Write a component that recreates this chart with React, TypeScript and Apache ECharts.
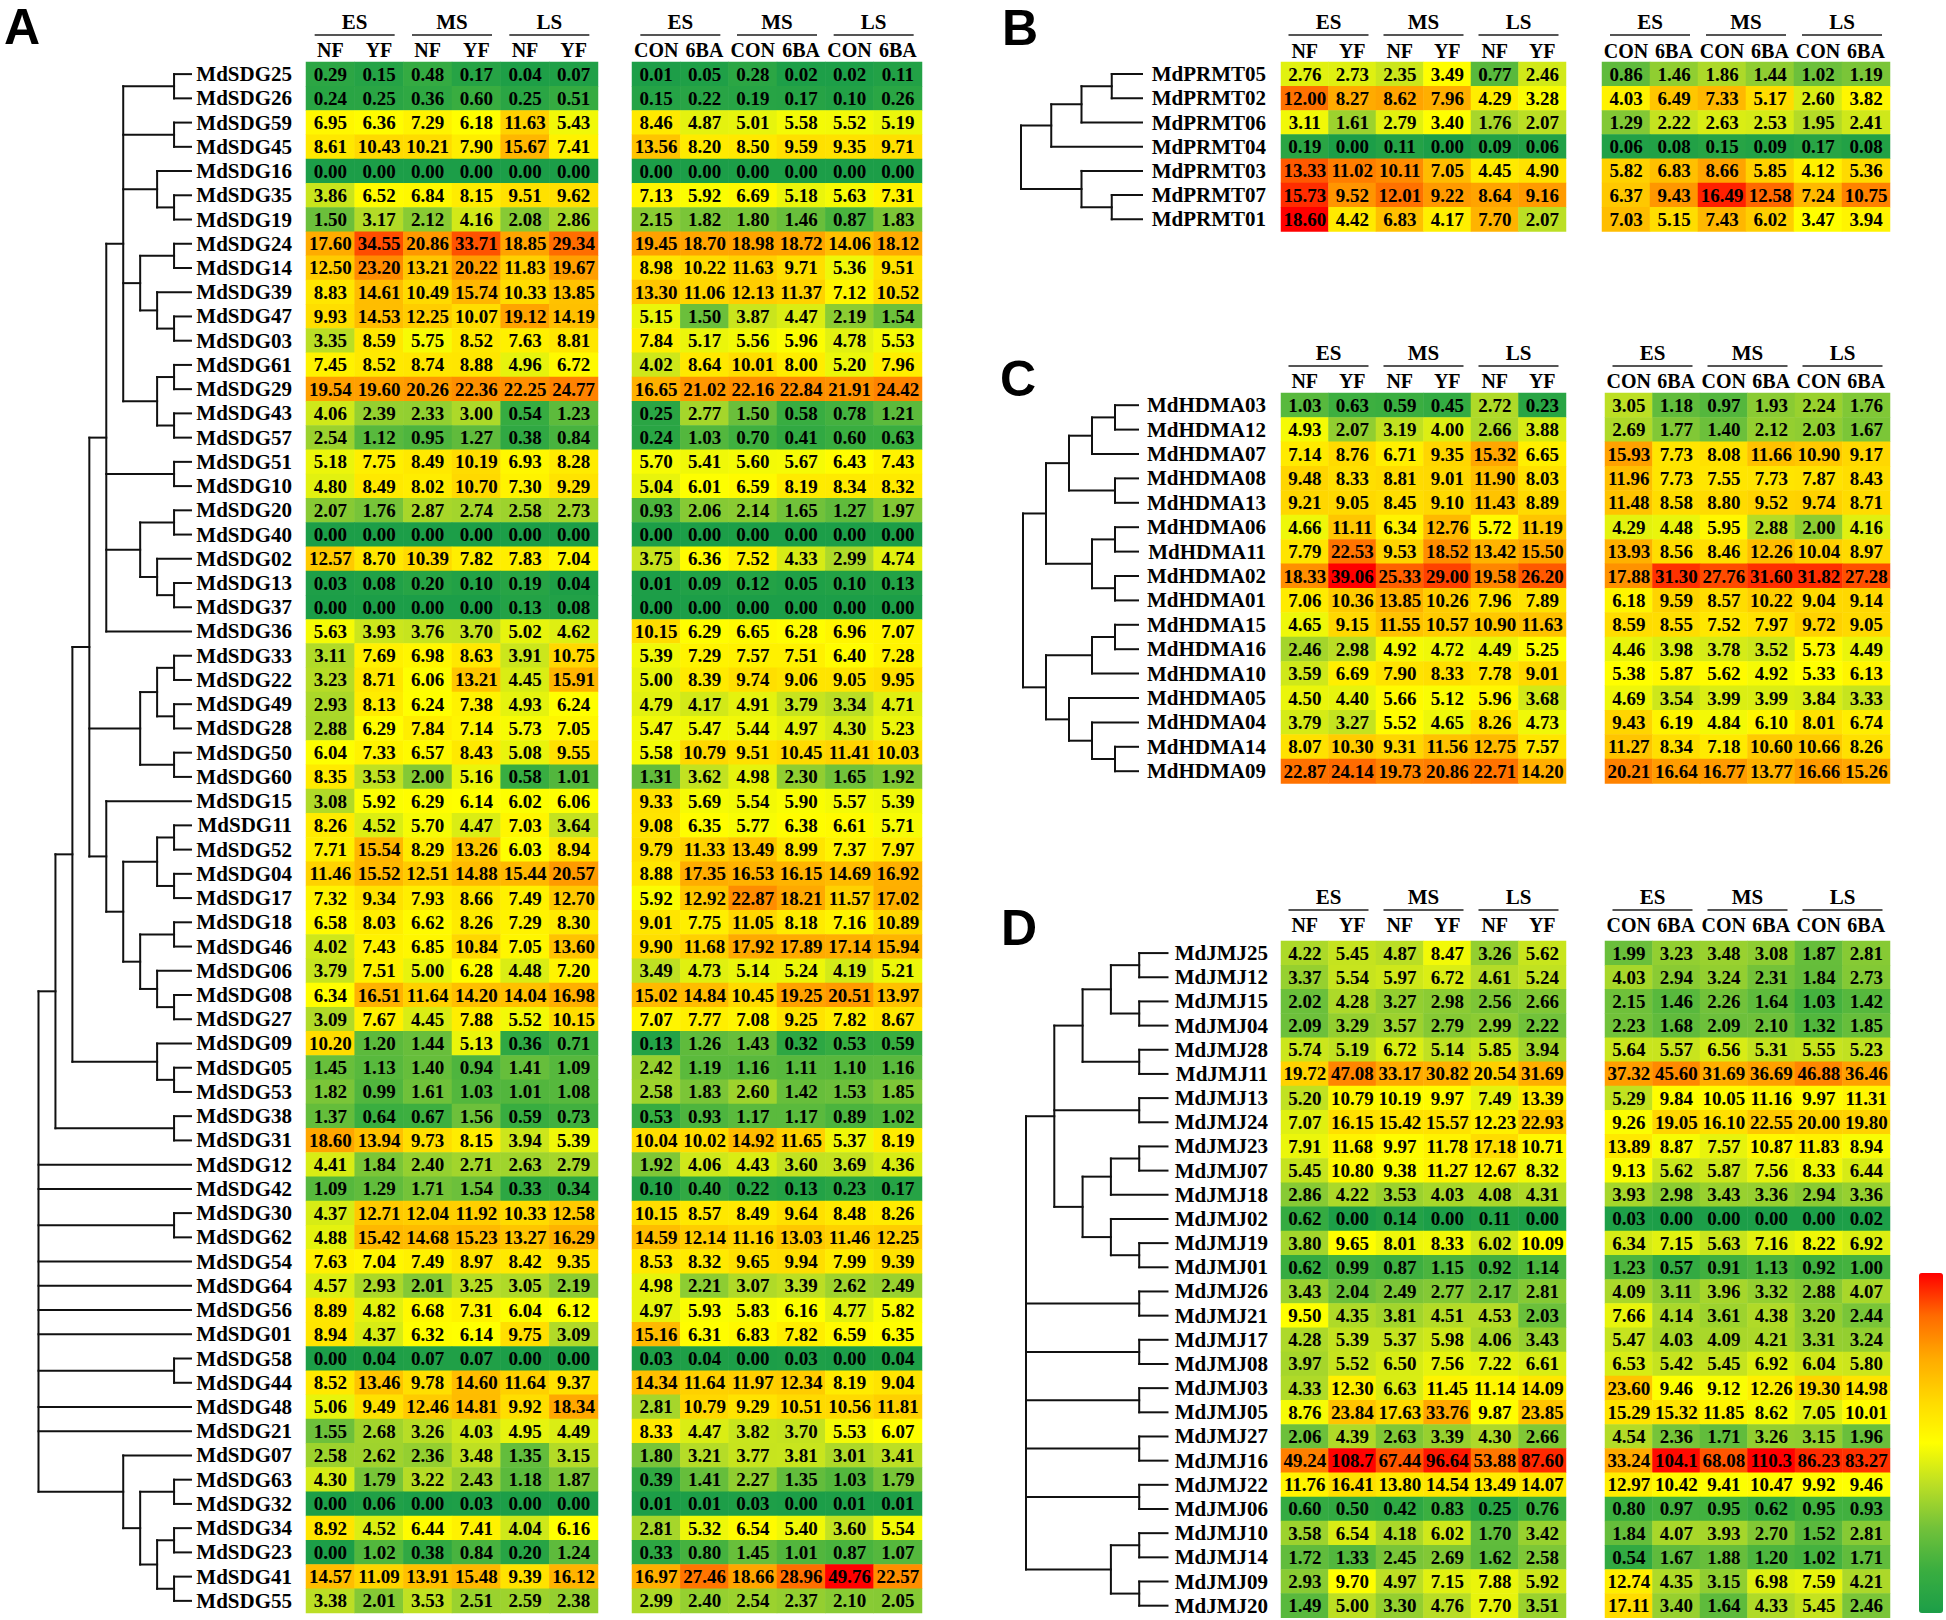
import React, { useEffect, useRef } from 'react';
import * as echarts from 'echarts';

// ---------- categories ----------
const groups = ['ES', 'MS', 'LS'];
const fruitCols = ['NF', 'YF'];
const treatCols = ['CON', '6BA'];

// ---------- Panel A (SDG) ----------
const genesA = ['MdSDG25','MdSDG26','MdSDG59','MdSDG45','MdSDG16','MdSDG35','MdSDG19','MdSDG24','MdSDG14','MdSDG39','MdSDG47','MdSDG03','MdSDG61','MdSDG29','MdSDG43','MdSDG57','MdSDG51','MdSDG10','MdSDG20','MdSDG40','MdSDG02','MdSDG13','MdSDG37','MdSDG36','MdSDG33','MdSDG22','MdSDG49','MdSDG28','MdSDG50','MdSDG60','MdSDG15','MdSDG11','MdSDG52','MdSDG04','MdSDG17','MdSDG18','MdSDG46','MdSDG06','MdSDG08','MdSDG27','MdSDG09','MdSDG05','MdSDG53','MdSDG38','MdSDG31','MdSDG12','MdSDG42','MdSDG30','MdSDG62','MdSDG54','MdSDG64','MdSDG56','MdSDG01','MdSDG58','MdSDG44','MdSDG48','MdSDG21','MdSDG07','MdSDG63','MdSDG32','MdSDG34','MdSDG23','MdSDG41','MdSDG55'];
const fruitA = [
  [0.29,0.15,0.48,0.17,0.04,0.07],[0.24,0.25,0.36,0.60,0.25,0.51],[6.95,6.36,7.29,6.18,11.63,5.43],[8.61,10.43,10.21,7.90,15.67,7.41],
  [0,0,0,0,0,0],[3.86,6.52,6.84,8.15,9.51,9.62],[1.50,3.17,2.12,4.16,2.08,2.86],[17.60,34.55,20.86,33.71,18.85,29.34],
  [12.50,23.20,13.21,20.22,11.83,19.67],[8.83,14.61,10.49,15.74,10.33,13.85],[9.93,14.53,12.25,10.07,19.12,14.19],[3.35,8.59,5.75,8.52,7.63,8.81],
  [7.45,8.52,8.74,8.88,4.96,6.72],[19.54,19.60,20.26,22.36,22.25,24.77],[4.06,2.39,2.33,3.00,0.54,1.23],[2.54,1.12,0.95,1.27,0.38,0.84],
  [5.18,7.75,8.49,10.19,6.93,8.28],[4.80,8.49,8.02,10.70,7.30,9.29],[2.07,1.76,2.87,2.74,2.58,2.73],[0,0,0,0,0,0],
  [12.57,8.70,10.39,7.82,7.83,7.04],[0.03,0.08,0.20,0.10,0.19,0.04],[0,0,0,0,0.13,0.08],[5.63,3.93,3.76,3.70,5.02,4.62],
  [3.11,7.69,6.98,8.63,3.91,10.75],[3.23,8.71,6.06,13.21,4.45,15.91],[2.93,8.13,6.24,7.38,4.93,6.24],[2.88,6.29,7.84,7.14,5.73,7.05],
  [6.04,7.33,6.57,8.43,5.08,9.55],[8.35,3.53,2.00,5.16,0.58,1.01],[3.08,5.92,6.29,6.14,6.02,6.06],[8.26,4.52,5.70,4.47,7.03,3.64],
  [7.71,15.54,8.29,13.26,6.03,8.94],[11.46,15.52,12.51,14.88,15.44,20.57],[7.32,9.34,7.93,8.66,7.49,12.70],[6.58,8.03,6.62,8.26,7.29,8.30],
  [4.02,7.43,6.85,10.84,7.05,13.60],[3.79,7.51,5.00,6.28,4.48,7.20],[6.34,16.51,11.64,14.20,14.04,16.98],[3.09,7.67,4.45,7.88,5.52,10.15],
  [10.20,1.20,1.44,5.13,0.36,0.71],[1.45,1.13,1.40,0.94,1.41,1.09],[1.82,0.99,1.61,1.03,1.01,1.08],[1.37,0.64,0.67,1.56,0.59,0.73],
  [18.60,13.94,9.73,8.15,3.94,5.39],[4.41,1.84,2.40,2.71,2.63,2.79],[1.09,1.29,1.71,1.54,0.33,0.34],[4.37,12.71,12.04,11.92,10.33,12.58],
  [4.88,15.42,14.68,15.23,13.27,16.29],[7.63,7.04,7.49,8.97,8.42,9.35],[4.57,2.93,2.01,3.25,3.05,2.19],[8.89,4.82,6.68,7.31,6.04,6.12],
  [8.94,4.37,6.32,6.14,9.75,3.09],[0,0.04,0.07,0.07,0,0],[8.52,13.46,9.78,14.60,11.64,9.37],[5.06,9.49,12.46,14.81,9.92,18.34],
  [1.55,2.68,3.26,4.03,4.95,4.49],[2.58,2.62,2.36,3.48,1.35,3.15],[4.30,1.79,3.22,2.43,1.18,1.87],[0,0.06,0,0.03,0,0],
  [8.92,4.52,6.44,7.41,4.04,6.16],[0,1.02,0.38,0.84,0.20,1.24],[14.57,11.09,13.91,15.48,9.39,16.12],[3.38,2.01,3.53,2.51,2.59,2.38],
];
const treatA = [
  [0.01,0.05,0.28,0.02,0.02,0.11],[0.15,0.22,0.19,0.17,0.10,0.26],[8.46,4.87,5.01,5.58,5.52,5.19],[13.56,8.20,8.50,9.59,9.35,9.71],
  [0,0,0,0,0,0],[7.13,5.92,6.69,5.18,5.63,7.31],[2.15,1.82,1.80,1.46,0.87,1.83],[19.45,18.70,18.98,18.72,14.06,18.12],
  [8.98,10.22,11.63,9.71,5.36,9.51],[13.30,11.06,12.13,11.37,7.12,10.52],[5.15,1.50,3.87,4.47,2.19,1.54],[7.84,5.17,5.56,5.96,4.78,5.53],
  [4.02,8.64,10.01,8.00,5.20,7.96],[16.65,21.02,22.16,22.84,21.91,24.42],[0.25,2.77,1.50,0.58,0.78,1.21],[0.24,1.03,0.70,0.41,0.60,0.63],
  [5.70,5.41,5.60,5.67,6.43,7.43],[5.04,6.01,6.59,8.19,8.34,8.32],[0.93,2.06,2.14,1.65,1.27,1.97],[0,0,0,0,0,0],
  [3.75,6.36,7.52,4.33,2.99,4.74],[0.01,0.09,0.12,0.05,0.10,0.13],[0,0,0,0,0,0],[10.15,6.29,6.65,6.28,6.96,7.07],
  [5.39,7.29,7.57,7.51,6.40,7.28],[5.00,8.39,9.74,9.06,9.05,9.95],[4.79,4.17,4.91,3.79,3.34,4.71],[5.47,5.47,5.44,4.97,4.30,5.23],
  [5.58,10.79,9.51,10.45,11.41,10.03],[1.31,3.62,4.98,2.30,1.65,1.92],[9.33,5.69,5.54,5.90,5.57,5.39],[9.08,6.35,5.77,6.38,6.61,5.71],
  [9.79,11.33,13.49,8.99,7.37,7.97],[8.88,17.35,16.53,16.15,14.69,16.92],[5.92,12.92,22.87,18.21,11.57,17.02],[9.01,7.75,11.05,8.18,7.16,10.89],
  [9.90,11.68,17.92,17.89,17.14,15.94],[3.49,4.73,5.14,5.24,4.19,5.21],[15.02,14.84,10.45,19.25,20.51,13.97],[7.07,7.77,7.08,9.25,7.82,8.67],
  [0.13,1.26,1.43,0.32,0.53,0.59],[2.42,1.19,1.16,1.11,1.10,1.16],[2.58,1.83,2.60,1.42,1.53,1.85],[0.53,0.93,1.17,1.17,0.89,1.02],
  [10.04,10.02,14.92,11.65,5.37,8.19],[1.92,4.06,4.43,3.60,3.69,4.36],[0.10,0.40,0.22,0.13,0.23,0.17],[10.15,8.57,8.49,9.64,8.48,8.26],
  [14.59,12.14,11.16,13.03,11.46,12.25],[8.53,8.32,9.65,9.94,7.99,9.39],[4.98,2.21,3.07,3.39,2.62,2.49],[4.97,5.93,5.83,6.16,4.77,5.82],
  [15.16,6.31,6.83,7.82,6.59,6.35],[0.03,0.04,0,0.03,0,0.04],[14.34,11.64,11.97,12.34,8.19,9.04],[2.81,10.79,9.29,10.51,10.56,11.81],
  [8.33,4.47,3.82,3.70,5.53,6.07],[1.80,3.21,3.77,3.81,3.01,3.41],[0.39,1.41,2.27,1.35,1.03,1.79],[0.01,0.01,0.03,0,0.01,0.01],
  [2.81,5.32,6.54,5.40,3.60,5.54],[0.33,0.80,1.45,1.01,0.87,1.07],[16.97,27.46,18.66,28.96,49.76,22.57],[2.99,2.40,2.54,2.37,2.10,2.05],
];

// ---------- Panel B (PRMT) ----------
const genesB = ['MdPRMT05','MdPRMT02','MdPRMT06','MdPRMT04','MdPRMT03','MdPRMT07','MdPRMT01'];
const fruitB = [
  [2.76,2.73,2.35,3.49,0.77,2.46],[12.00,8.27,8.62,7.96,4.29,3.28],[3.11,1.61,2.79,3.40,1.76,2.07],[0.19,0,0.11,0,0.09,0.06],
  [13.33,11.02,10.11,7.05,4.45,4.90],[15.73,9.52,12.01,9.22,8.64,9.16],[18.60,4.42,6.83,4.17,7.70,2.07],
];
const treatB = [
  [0.86,1.46,1.86,1.44,1.02,1.19],[4.03,6.49,7.33,5.17,2.60,3.82],[1.29,2.22,2.63,2.53,1.95,2.41],[0.06,0.08,0.15,0.09,0.17,0.08],
  [5.82,6.83,8.66,5.85,4.12,5.36],[6.37,9.43,16.49,12.58,7.24,10.75],[7.03,5.15,7.43,6.02,3.47,3.94],
];

// ---------- Panel C (HDMA) ----------
const genesC = ['MdHDMA03','MdHDMA12','MdHDMA07','MdHDMA08','MdHDMA13','MdHDMA06','MdHDMA11','MdHDMA02','MdHDMA01','MdHDMA15','MdHDMA16','MdHDMA10','MdHDMA05','MdHDMA04','MdHDMA14','MdHDMA09'];
const fruitC = [
  [1.03,0.63,0.59,0.45,2.72,0.23],[4.93,2.07,3.19,4.00,2.66,3.88],[7.14,8.76,6.71,9.35,15.32,6.65],[9.48,8.33,8.81,9.01,11.90,8.03],
  [9.21,9.05,8.45,9.10,11.43,8.89],[4.66,11.11,6.34,12.76,5.72,11.19],[7.79,22.53,9.53,18.52,13.42,15.50],[18.33,39.06,25.33,29.00,19.58,26.20],
  [7.06,10.36,13.85,10.26,7.96,7.89],[4.65,9.15,11.55,10.57,10.90,11.63],[2.46,2.98,4.92,4.72,4.49,5.25],[3.59,6.69,7.90,8.33,7.78,9.01],
  [4.50,4.40,5.66,5.12,5.96,3.68],[3.79,3.27,5.52,4.65,8.26,4.73],[8.07,10.30,9.31,11.56,12.75,7.57],[22.87,24.14,19.73,20.86,22.71,14.20],
];
const treatC = [
  [3.05,1.18,0.97,1.93,2.24,1.76],[2.69,1.77,1.40,2.12,2.03,1.67],[15.93,7.73,8.08,11.66,10.90,9.17],[11.96,7.73,7.55,7.73,7.87,8.43],
  [11.48,8.58,8.80,9.52,9.74,8.71],[4.29,4.48,5.95,2.88,2.00,4.16],[13.93,8.56,8.46,12.26,10.04,8.97],[17.88,31.30,27.76,31.60,31.82,27.28],
  [6.18,9.59,8.57,10.22,9.04,9.14],[8.59,8.55,7.52,7.97,9.72,9.05],[4.46,3.98,3.78,3.52,5.73,4.49],[5.38,5.87,5.62,4.92,5.33,6.13],
  [4.69,3.54,3.99,3.99,3.84,3.33],[9.43,6.19,4.84,6.10,8.01,6.74],[11.27,8.34,7.18,10.60,10.66,8.26],[20.21,16.64,16.77,13.77,16.66,15.26],
];

// ---------- Panel D (JMJ) ----------
const genesD = ['MdJMJ25','MdJMJ12','MdJMJ15','MdJMJ04','MdJMJ28','MdJMJ11','MdJMJ13','MdJMJ24','MdJMJ23','MdJMJ07','MdJMJ18','MdJMJ02','MdJMJ19','MdJMJ01','MdJMJ26','MdJMJ21','MdJMJ17','MdJMJ08','MdJMJ03','MdJMJ05','MdJMJ27','MdJMJ16','MdJMJ22','MdJMJ06','MdJMJ10','MdJMJ14','MdJMJ09','MdJMJ20'];
const fruitD = [
  [4.22,5.45,4.87,8.47,3.26,5.62],[3.37,5.54,5.97,6.72,4.61,5.24],[2.02,4.28,3.27,2.98,2.56,2.66],[2.09,3.29,3.57,2.79,2.99,2.22],
  [5.74,5.19,6.72,5.14,5.85,3.94],[19.72,47.08,33.17,30.82,20.54,31.69],[5.20,10.79,10.19,9.97,7.49,13.39],[7.07,16.15,15.42,15.57,12.23,22.93],
  [7.91,11.68,9.97,11.78,17.18,10.71],[5.45,10.80,9.38,11.27,12.67,8.32],[2.86,4.22,3.53,4.03,4.08,4.31],[0.62,0,0.14,0,0.11,0],
  [3.80,9.65,8.01,8.33,6.02,10.09],[0.62,0.99,0.87,1.15,0.92,1.14],[3.43,2.04,2.49,2.77,2.17,2.81],[9.50,4.35,3.81,4.51,4.53,2.03],
  [4.28,5.39,5.37,5.98,4.06,3.43],[3.97,5.52,6.50,7.56,7.22,6.61],[4.33,12.30,6.63,11.45,11.14,14.09],[8.76,23.84,17.63,33.76,9.87,23.85],
  [2.06,4.39,2.63,3.39,4.30,2.66],[49.24,108.7,67.44,96.64,53.88,87.60],[11.76,16.41,13.80,14.54,13.49,14.07],[0.60,0.50,0.42,0.83,0.25,0.76],
  [3.58,6.54,4.18,6.02,1.70,3.42],[1.72,1.33,2.45,2.69,1.62,2.58],[2.93,9.70,4.97,7.15,7.88,5.92],[1.49,5.00,3.30,4.76,7.70,3.51],
];
const treatD = [
  [1.99,3.23,3.48,3.08,1.87,2.81],[4.03,2.94,3.24,2.31,1.84,2.73],[2.15,1.46,2.26,1.64,1.03,1.42],[2.23,1.68,2.09,2.10,1.32,1.85],
  [5.64,5.57,6.56,5.31,5.55,5.23],[37.32,45.60,31.69,36.69,46.88,36.46],[5.29,9.84,10.05,11.16,9.97,11.31],[9.26,19.05,16.10,22.55,20.00,19.80],
  [13.89,8.87,7.57,10.87,11.83,8.94],[9.13,5.62,5.87,7.56,8.33,6.44],[3.93,2.98,3.43,3.36,2.94,3.36],[0.03,0,0,0,0,0.02],
  [6.34,7.15,5.63,7.16,8.22,6.92],[1.23,0.57,0.91,1.13,0.92,1.00],[4.09,3.11,3.96,3.32,2.88,4.07],[7.66,4.14,3.61,4.38,3.20,2.44],
  [5.47,4.03,4.09,4.21,3.31,3.24],[6.53,5.42,5.45,6.92,6.04,5.80],[23.60,9.46,9.12,12.26,19.30,14.98],[15.29,15.32,11.85,8.62,7.05,10.01],
  [4.54,2.36,1.71,3.26,3.15,1.96],[33.24,104.1,68.08,110.3,86.23,83.27],[12.97,10.42,9.41,10.47,9.92,9.46],[0.80,0.97,0.95,0.62,0.95,0.93],
  [1.84,4.07,3.93,2.70,1.52,2.81],[0.54,1.67,1.88,1.20,1.02,1.71],[12.74,4.35,3.15,6.98,7.59,4.21],[17.11,3.40,1.64,4.33,5.45,2.46],
];

// ---------- dendrograms (leaf = row index, node = merge level + children) ----------
type Tree = number | { h: number; c: Tree[] };
const N = (h: number, c: Tree[]): Tree => ({ h, c });

const treeA = N(9, [
  N(8, [
    N(7, [
      N(6, [
        N(5, [
          N(4, [N(1, [0, 1]), N(1, [2, 3]), N(2, [4, N(1, [5, 6])]), N(3, [N(1, [7, 8]), N(2, [9, N(1, [10, 11])])]), N(2, [N(1, [12, 13]), N(1, [14, 15])])]),
          N(1, [16, 17]),
          N(3, [N(1, [18, 19]), N(2, [20, N(1, [21, 22])])]),
          23,
        ]),
        N(3, [N(2, [N(1, [24, 25]), N(1, [26, 27])]), N(1, [28, 29])]),
        N(5, [30, N(4, [N(2, [N(1, [31, 32]), N(1, [33, 34])]), N(3, [N(1, [35, 36]), N(2, [37, N(1, [38, 39])])])])]),
      ]),
      N(2, [40, N(1, [41, 42])]),
    ]),
    N(1, [43, 44]),
  ]),
  45, 46, N(1, [47, 48]), 49, 50, 51, 52, N(1, [53, 54]), 55, 56,
  N(4, [57, N(3, [N(1, [58, 59]), N(2, [N(1, [60, 61]), N(1, [62, 63])])])]),
]);
const treeB = N(4, [N(3, [N(2, [N(1, [0, 1]), 2]), 3]), N(2, [4, N(1, [5, 6])])]);
const treeC = N(5, [
  N(4, [N(3, [N(2, [N(1, [0, 1]), 2]), N(1, [3, 4])]), N(2, [N(1, [5, 6]), N(1, [7, 8])])]),
  N(4, [N(2, [N(1, [9, 10]), 11]), N(3, [12, N(2, [13, N(1, [14, 15])])])]),
]);
const treeD = N(5, [
  N(4, [
    N(3, [N(2, [N(1, [0, 1]), N(1, [2, 3])]), N(1, [4, 5])]),
    N(1, [6, 7]),
    N(3, [N(2, [N(1, [8, 9]), 10]), N(2, [11, N(1, [12, 13])])]),
  ]),
  N(1, [14, 15]), N(1, [16, 17]), N(1, [18, 19]), N(1, [20, 21]), N(1, [22, 23]),
  N(2, [N(1, [24, 25]), N(1, [26, 27])]),
]);

// ---------- colours ----------
const colorStops = ['#1c9e48', '#3aae40', '#72c23a', '#bade25', '#ffff00', '#ffd900', '#ffaa00', '#ff6a00', '#ff0000'];

// ---------- layout (pixels) ----------
const SERIF = "'Liberation Serif', 'Times New Roman', serif";
const SANS = "'Liberation Sans', Arial, sans-serif";

const panels = [
  { letter: 'A', lx: 22, ly: 27, genes: genesA, fruit: fruitA, treat: treatA, tree: treeA, levels: 9,
    top: 62, rowH: 24.234, dLeft: 38.5, leafX: 191, labelR: 292, hm1: [306, 598], hm2: [632, 922], gy: 22, uy: 35, sy: 50 },
  { letter: 'B', lx: 1020, ly: 28, genes: genesB, fruit: fruitB, treat: treatB, tree: treeB, levels: 4,
    top: 62, rowH: 24.2, dLeft: 1021, leafX: 1142, labelR: 1266, hm1: [1281, 1566], hm2: [1602, 1890], gy: 22, uy: 35, sy: 51 },
  { letter: 'C', lx: 1018, ly: 379, genes: genesC, fruit: fruitC, treat: treatC, tree: treeC, levels: 5,
    top: 393, rowH: 24.4, dLeft: 1023, leafX: 1138, labelR: 1266, hm1: [1281, 1566], hm2: [1605, 1890], gy: 353, uy: 366, sy: 381 },
  { letter: 'D', lx: 1019, ly: 928, genes: genesD, fruit: fruitD, treat: treatD, tree: treeD, levels: 5,
    top: 941, rowH: 24.17, dLeft: 1026, leafX: 1167.5, labelR: 1268, hm1: [1281, 1566], hm2: [1605, 1890], gy: 897, uy: 910, sy: 925 },
];

const lg = (v: number) => Math.log2(v + 1);
const fmt = (v: number) => (v >= 100 ? v.toFixed(1) : v.toFixed(2));

function treeSegments(t: Tree, segs: number[][]): { y: number; h: number } {
  if (typeof t === 'number') return { y: t, h: 0 };
  const kids = t.c.map((k) => treeSegments(k, segs));
  const y0 = kids[0].y;
  const y1 = kids[kids.length - 1].y;
  segs.push([t.h, y0, t.h, y1]);
  kids.forEach((k) => segs.push([t.h, k.y, k.h, k.y]));
  return { y: (y0 + y1) / 2, h: t.h };
}

function buildOption() {
  const grid: any[] = [];
  const xAxis: any[] = [];
  const yAxis: any[] = [];
  const series: any[] = [];
  const visualMap: any[] = [];
  const graphic: any[] = [];

  panels.forEach((p, pi) => {
    const n = p.genes.length;
    const height = n * p.rowH;

    // dendrogram
    const segs: number[][] = [];
    treeSegments(p.tree, segs);
    let gi = grid.length;
    grid.push({ left: p.dLeft, top: p.top, width: p.leafX - p.dLeft, height });
    xAxis.push({ gridIndex: gi, type: 'value', min: 0, max: p.levels, inverse: true, show: false });
    yAxis.push({ gridIndex: gi, type: 'value', min: -0.5, max: n - 0.5, inverse: true, show: false });
    series.push({
      type: 'custom', xAxisIndex: gi, yAxisIndex: gi, silent: true, clip: false,
      encode: { x: [0, 2], y: [1, 3] },
      data: segs,
      renderItem: (_params: any, api: any) => {
        const a = api.coord([api.value(0), api.value(1)]);
        const b = api.coord([api.value(2), api.value(3)]);
        return {
          type: 'line',
          shape: { x1: a[0], y1: a[1], x2: b[0], y2: b[1] },
          style: { stroke: '#111', lineWidth: 2, lineCap: 'square' },
        };
      },
    });

    // heatmaps
    const maxV = Math.max(...p.fruit.flat(), ...p.treat.flat());
    const hmSeries: number[] = [];
    [0, 1].forEach((k) => {
      const [x0, x1] = k === 0 ? p.hm1 : p.hm2;
      const subs = k === 0 ? fruitCols : treatCols;
      const vals = k === 0 ? p.fruit : p.treat;
      gi = grid.length;
      grid.push({ left: x0, top: p.top, width: x1 - x0, height });
      const keys = groups.flatMap((g) => subs.map((s) => g + '|' + s));
      xAxis.push({
        gridIndex: gi, type: 'category', data: keys, position: 'top',
        axisLine: { show: false }, axisTick: { show: false }, splitLine: { show: false },
        axisLabel: {
          interval: 0, formatter: (v: string) => v.split('|')[1], margin: p.top - p.sy,
          verticalAlign: 'middle', fontFamily: SERIF, fontWeight: 'bold', fontSize: 20, color: '#000',
        },
      });
      yAxis.push({
        gridIndex: gi, type: 'category', data: p.genes, inverse: true,
        axisLine: { show: false }, axisTick: { show: false }, splitLine: { show: false },
        axisLabel: k === 0
          ? { show: true, interval: 0, margin: x0 - p.labelR, fontFamily: SERIF, fontWeight: 'bold', fontSize: 21, color: '#000' }
          : { show: false },
      });
      const data = vals.flatMap((row, r) => row.map((v, c) => [c, r, v, lg(v)]));
      hmSeries.push(series.length);
      series.push({
        type: 'heatmap', xAxisIndex: gi, yAxisIndex: gi, data,
        itemStyle: { borderWidth: 0 },
        emphasis: { disabled: true },
        label: {
          show: true, formatter: (pp: any) => fmt(pp.data[2]),
          fontFamily: SERIF, fontWeight: 'bold', fontSize: 19, color: '#000',
        },
      });

      // group headers + underlines
      const cw = (x1 - x0) / 6;
      groups.forEach((g, gi2) => {
        const cx = x0 + cw * (2 * gi2 + 1);
        graphic.push({
          type: 'text', x: cx, y: p.gy,
          style: { text: g, fontFamily: SERIF, fontWeight: 'bold', fontSize: 21, fill: '#000', align: 'center', verticalAlign: 'middle' },
        });
        graphic.push({
          type: 'line', shape: { x1: cx - 40, y1: p.uy, x2: cx + 40, y2: p.uy },
          style: { stroke: '#555', lineWidth: 2 },
        });
      });
    });

    visualMap.push({
      type: 'continuous', dimension: 3, min: 0, max: lg(maxV), seriesIndex: hmSeries,
      inRange: { color: colorStops }, calculable: false, show: pi === 3,
      left: 1919, top: 1273, itemWidth: 24, itemHeight: 340, padding: 0, text: null, hoverLink: false,
    });

    graphic.push({
      type: 'text', x: p.lx, y: p.ly,
      style: { text: p.letter, fontFamily: SANS, fontWeight: 'bold', fontSize: 50, fill: '#000', align: 'center', verticalAlign: 'middle' },
    });
  });

  return { animation: false, grid, xAxis, yAxis, series, visualMap, graphic };
}

export default function App() {
  const ref = useRef<HTMLDivElement>(null);
  useEffect(() => {
    if (!ref.current) return;
    const chart = echarts.init(ref.current, undefined, { renderer: 'svg' });
    chart.setOption(buildOption() as any);
    return () => chart.dispose();
  }, []);
  return (
    <div
      ref={ref}
      style={{ position: 'absolute', left: 0, top: 0, width: 1946, height: 1620, background: '#fff' }}
    />
  );
}
